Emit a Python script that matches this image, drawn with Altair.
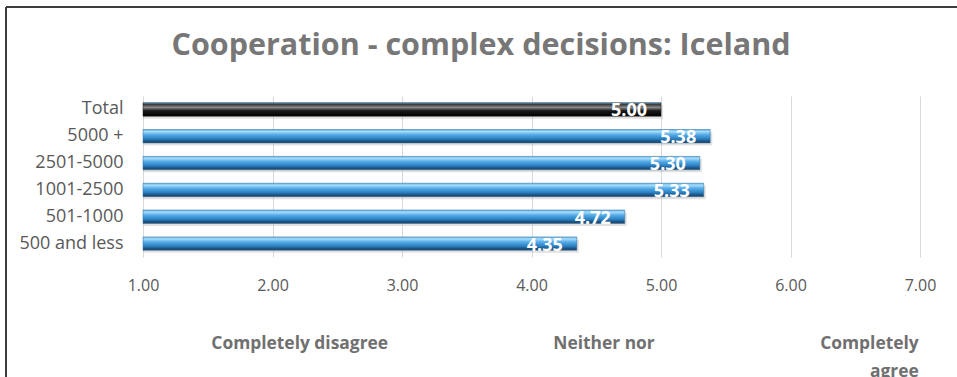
import altair as alt
import pandas as pd

# Survey results: mean agreement (1-7 scale) by municipality size
groups = ["Total", "5000 +", "2501-5000", "1001-2500", "501-1000", "500 and less"]
means = [5.00, 5.38, 5.30, 5.33, 4.72, 4.35]

# Scale anchor captions shown under the axis
anchor_text = ["Completely disagree", "Neither nor", "Completely\nagree"]
anchor_pos = [2.21, 4.56, 6.99]
anchor_align = ["center", "center", "right"]

TITLE = "Cooperation - complex decisions: Iceland"

FONT = "Open Sans"
W, H = 777, 161

df = pd.DataFrame({"group": groups, "mean": means})
anchors = pd.DataFrame({"text": anchor_text, "pos": anchor_pos, "align": anchor_align})
title_df = pd.DataFrame({"title": [TITLE]})

x_scale = alt.Scale(domain=[1, 7], zero=False, nice=False)
y_scale = alt.Scale(domain=groups, paddingInner=0.5, paddingOuter=0.25)

blue = alt.Gradient(
    gradient="linear", x1=0, y1=0, x2=0, y2=1,
    stops=[
        alt.GradientStop(offset=0.0, color="#5fb0e8"),
        alt.GradientStop(offset=0.15, color="#a8dcfa"),
        alt.GradientStop(offset=0.38, color="#55ace8"),
        alt.GradientStop(offset=0.7, color="#2a7fc0"),
        alt.GradientStop(offset=0.86, color="#1c5485"),
        alt.GradientStop(offset=1.0, color="#26445f"),
    ],
)
black = alt.Gradient(
    gradient="linear", x1=0, y1=0, x2=0, y2=1,
    stops=[
        alt.GradientStop(offset=0.0, color="#5aa8e0"),
        alt.GradientStop(offset=0.14, color="#3a3a3a"),
        alt.GradientStop(offset=0.35, color="#8a8a8a"),
        alt.GradientStop(offset=0.6, color="#1a1a1a"),
        alt.GradientStop(offset=1.0, color="#000000"),
    ],
)

y_enc = alt.Y("group:N", scale=y_scale, sort=groups, title=None,
              axis=alt.Axis(labelFont=FONT, labelFontSize=18, labelColor="#595959",
                            labelPadding=20, ticks=False, domain=False, grid=False))

x_axis = alt.Axis(values=[1, 2, 3, 4, 5, 6, 7], format=".2f",
                  labelFont=FONT, labelFontSize=16, labelColor="#595959",
                  labelPadding=20, labelFlush=False, ticks=False, domain=False,
                  grid=True, gridColor="#d9d9d9", gridWidth=1)
x_enc = alt.X("mean:Q", scale=x_scale, title=None, axis=x_axis)

base = alt.Chart(df).encode(y=y_enc, x=x_enc)

shadow = base.mark_bar(color="#bdbdbd", opacity=0.45, yOffset=2.5, xOffset=2).encode(
    x2=alt.datum(1))

bars_blue = base.transform_filter(alt.datum.group != "Total").mark_bar(
    color=blue, stroke="#2a6a9c", strokeWidth=0.5).encode(x2=alt.datum(1))
bars_total = base.transform_filter(alt.datum.group == "Total").mark_bar(
    color=black, stroke="#111111", strokeWidth=0.5).encode(x2=alt.datum(1))

values = base.mark_text(align="right", baseline="middle", dx=-14, dy=2,
                        font=FONT, fontSize=18, fontWeight="bold", color="white").encode(
    text=alt.Text("mean:Q", format=".2f"))


def caption_layer(align):
    return alt.Chart(anchors).transform_filter(alt.datum.align == align).mark_text(
        align=align, baseline="alphabetic", font=FONT, fontSize=17.4, fontWeight="bold",
        color="#707070", lineHeight=28, lineBreak="\n").encode(
        x=alt.X("pos:Q", scale=x_scale, title=None, axis=x_axis),
        y=alt.value(253),
        text="text:N",
    )


captions_center = caption_layer("center")
captions_right = caption_layer("right")

title = alt.Chart(title_df).mark_text(
    align="center", baseline="alphabetic", font=FONT, fontSize=30.5, fontWeight="bold",
    color="#777777").encode(x=alt.value(338), y=alt.value(-41), text="title:N")

# Outer frame of the chart area (top and left edges)
frame_top = alt.Chart(title_df).mark_rule(color="#3c3c3c", strokeWidth=2).encode(
    x=alt.value(-137), x2=alt.value(W + 60), y=alt.value(-89))
frame_left = alt.Chart(title_df).mark_rule(color="#3c3c3c", strokeWidth=2).encode(
    x=alt.value(-137), y=alt.value(-89), y2=alt.value(H + 140))

chart = alt.layer(shadow, bars_blue, bars_total, values, captions_center, captions_right,
                  title, frame_top, frame_left).properties(
    width=W, height=H,
    background="white",
    autosize=alt.AutoSizeParams(type="none"),
    padding={"left": 143, "top": 96, "right": 37, "bottom": 120},
).configure_view(stroke="transparent", strokeWidth=0).configure_axis(domain=False)

chart.save("out.html", embed_options={"renderer": "svg", "actions": False})
